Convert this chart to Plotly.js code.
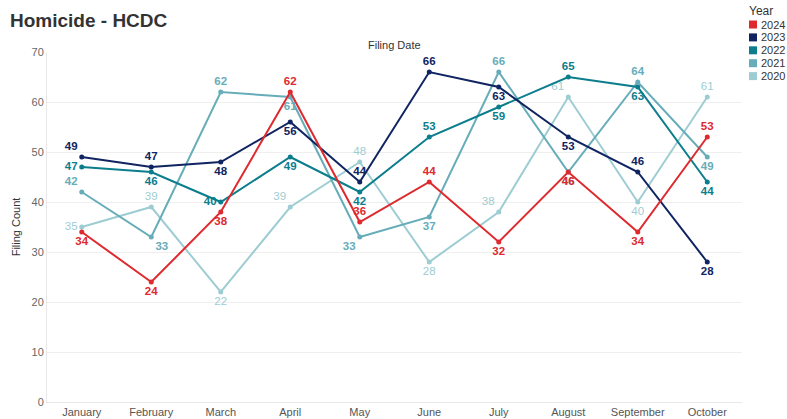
<!DOCTYPE html>
<html>
<head>
<meta charset="utf-8">
<script src="https://cdn.plot.ly/plotly-3.0.1.min.js"></script>
<style>html,body{margin:0;padding:0;background:#fff;}#chart{width:787px;height:419px;}</style>
</head>
<body>
<div id="chart"></div>
<script>
const months = ["January","February","March","April","May","June","July","August","September","October"];
const years = ["2024","2023","2022","2021","2020"];
const colors = ["#DE2A2F","#0F2461","#0C7D8C","#67ADB9","#9DCDD2"];
const v2024 = [34,24,38,62,36,44,32,46,34,53];
const v2023 = [49,47,48,56,44,66,63,53,46,28];
const v2022 = [47,46,40,49,42,53,59,65,63,44];
const v2021 = [42,33,62,61,33,37,66,46,64,49];
const v2020 = [35,39,22,39,48,28,38,61,40,61];
const yTicks = [0,10,20,30,40,50,60,70];

const T="top center", B="bottom center", L="middle left", BR="bottom right", BL="bottom left", TL="top left";
const pos = {
  "2024":[B,B,B,T,T,T,B,B,B,T],
  "2023":[TL,T,B,B,T,T,B,B,T,B],
  "2022":[L,B,L,B,B,T,B,T,B,B],
  "2021":[TL,BR,T,B,BL,B,T,B,T,B],
  "2020":[L,T,B,TL,T,B,TL,TL,B,T]
};
const series = {"2024":v2024,"2023":v2023,"2022":v2022,"2021":v2021,"2020":v2020};
const weights = {"2024":"bold","2023":"bold","2022":"bold","2021":"bold","2020":"normal"};

const traces = [];
for (let i = years.length-1; i >= 0; i--) {
  const y = years[i];
  traces.push({
    x: months, y: series[y], type: "scatter", mode: "lines+markers+text",
    name: y, showlegend: false,
    line: {color: colors[i], width: 2},
    marker: {color: colors[i], size: 5},
    text: series[y].map(String),
    textposition: pos[y],
    textfont: {color: colors[i], size: 11.5, family: "Liberation Sans, Arial, sans-serif", weight: weights[y]},
    cliponaxis: false,
    hoverinfo: "x+y+name"
  });
}

// legend (drawn as layout decorations)
const PW = 695, PH = 350, PL = 47, PT = 52;
const px2x = p => (p - PL) / PW;
const py2y = p => (PT + PH - p) / PH;
const annotations = [
  {text: "Filing Date", xref: "paper", yref: "paper", x: 0.5, y: py2y(45), showarrow: false,
   font: {size: 11, color: "#333"}, xanchor: "center", yanchor: "middle"},
  {text: "Year", xref: "paper", yref: "paper", x: px2x(747), y: py2y(11), showarrow: false,
   font: {size: 12, color: "#333"}, xanchor: "left", yanchor: "middle"}
];
const shapes = [];
years.forEach((yr, i) => {
  const cy = 24.5 + i * 12.9;
  shapes.push({type: "rect", xref: "paper", yref: "paper",
    x0: px2x(749), x1: px2x(757), y0: py2y(cy - 4), y1: py2y(cy + 4),
    fillcolor: colors[i], line: {width: 0}});
  annotations.push({text: yr, xref: "paper", yref: "paper", x: px2x(759), y: py2y(cy),
    showarrow: false, font: {size: 11, color: "#333"}, xanchor: "left", yanchor: "middle"});
});

const layout = {
  width: 787, height: 419,
  margin: {l: PL, r: 787 - PL - PW, t: PT, b: 419 - PT - PH, pad: 0},
  paper_bgcolor: "#fff", plot_bgcolor: "#fff",
  font: {family: "Liberation Sans, Arial, sans-serif", color: "#333"},
  title: {text: "<b>Homicide - HCDC</b>", x: 10/787, xanchor: "left", xref: "container",
          y: 1 - 20/419, yanchor: "middle", yref: "container", font: {size: 19, color: "#333"}},
  showlegend: false,
  xaxis: {type: "category", range: [-0.5, 9.5], showgrid: false, zeroline: false,
          showline: true, linecolor: "#e8e8e8", linewidth: 1, ticks: "",
          tickfont: {size: 11, color: "#555"}, automargin: false, fixedrange: true},
  yaxis: {range: [0, 70], tickvals: yTicks, showgrid: true, gridcolor: "#efefef", zeroline: false,
          showline: true, linecolor: "#e8e8e8", ticks: "",
          tickfont: {size: 11, color: "#666"}, automargin: false,
          title: {text: "Filing Count", font: {size: 11, color: "#333"}, standoff: 8}},
  annotations: annotations,
  shapes: shapes
};

Plotly.newPlot("chart", traces, layout, {displayModeBar: false, staticPlot: true});
</script>
</body>
</html>
